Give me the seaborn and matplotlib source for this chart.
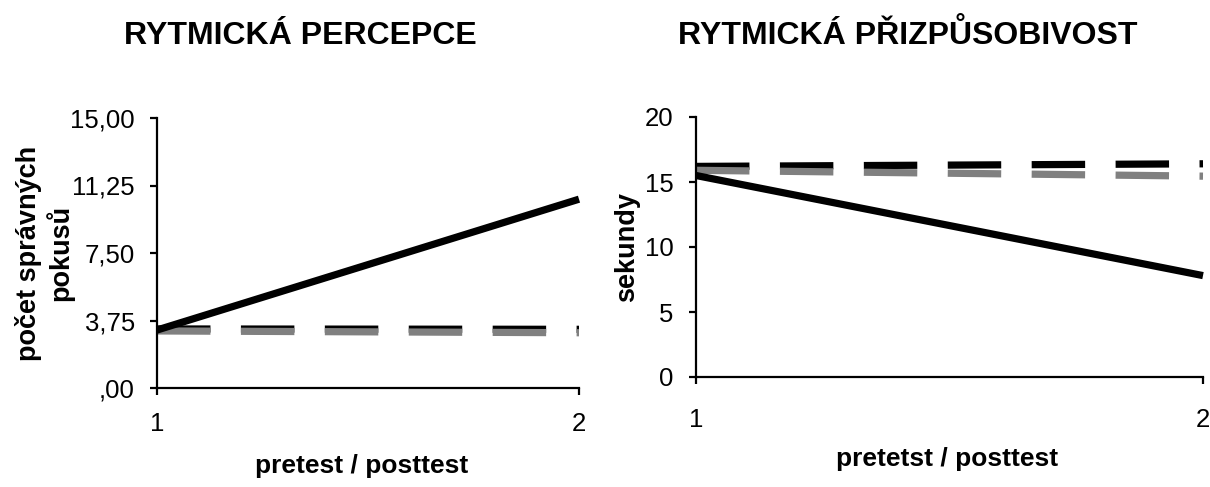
import matplotlib
matplotlib.use("Agg")
import matplotlib.pyplot as plt
import seaborn as sns
import pandas as pd

# ---- data ----
test_points = [1, 2]
x_tick_labels = ["1", "2"]

perc_exp = [3.22, 10.49]
perc_ctrl_black = [3.28, 3.26]
perc_ctrl_gray = [3.17, 3.07]
perc_yticks = [0, 3.75, 7.5, 11.25, 15]
perc_ytick_labels = [",00", "3,75", "7,50", "11,25", "15,00"]

adapt_exp = [15.5, 7.8]
adapt_ctrl_black = [16.2, 16.4]
adapt_ctrl_gray = [15.9, 15.45]
adapt_yticks = [0, 5, 10, 15, 20]
adapt_ytick_labels = ["0", "5", "10", "15", "20"]

titles = ["RYTMICKÁ PERCEPCE", "RYTMICKÁ PŘIZPŮSOBIVOST"]
xlabels = ["pretest / posttest", "pretetst / posttest"]
ylabels = ["počet správných\npokusů", "sekundy"]

sns.set_theme(style="white")
plt.rcParams["font.family"] = ["Liberation Sans", "DejaVu Sans"]

fig = plt.figure(figsize=(12.1, 4.87), dpi=100)
ax1 = fig.add_axes([157/1210, 1-388/487, (579-157)/1210, (388-118)/487])
ax2 = fig.add_axes([696/1210, 1-377/487, (1203-696)/1210, (377-117)/487])

LW = 5.2
DASH = (0, (7.4, 4.22))

def draw(ax, exp, cb, cg):
    df_b = pd.DataFrame({"x": test_points, "y": cb})
    df_g = pd.DataFrame({"x": test_points, "y": cg})
    df_e = pd.DataFrame({"x": test_points, "y": exp})
    sns.lineplot(data=df_b, x="x", y="y", ax=ax, color="black", lw=LW,
                 linestyle=DASH, dash_capstyle="butt", clip_on=False)
    sns.lineplot(data=df_g, x="x", y="y", ax=ax, color="#808080", lw=LW,
                 linestyle=DASH, dash_capstyle="butt", clip_on=False)
    sns.lineplot(data=df_e, x="x", y="y", ax=ax, color="black", lw=LW,
                 solid_capstyle="butt", clip_on=False)

draw(ax1, perc_exp, perc_ctrl_black, perc_ctrl_gray)
draw(ax2, adapt_exp, adapt_ctrl_black, adapt_ctrl_gray)

configs = [
    (ax1, perc_yticks, perc_ytick_labels, (0, 15), 12, 11, -0.195, 0.485, -0.245),
    (ax2, adapt_yticks, adapt_ytick_labels, (0, 20), 17, 11, -0.11, 0.495, -0.27),
]
for i, (ax, yt, ytl, ylim, xpad, ypad, ylx, xlx, xly) in enumerate(configs):
    ax.set_xlim(1, 2)
    ax.set_ylim(*ylim)
    ax.set_xticks(test_points)
    ax.set_xticklabels(x_tick_labels)
    ax.set_yticks(yt)
    ax.set_yticklabels(ytl)
    for s in ["top", "right"]:
        ax.spines[s].set_visible(False)
    for s in ["left", "bottom"]:
        ax.spines[s].set_color("black")
        ax.spines[s].set_linewidth(1.6)
    ax.tick_params(axis="both", which="major", direction="out", length=5,
                   width=1.6, color="black", labelsize=18.5, labelcolor="black",
                   left=True, bottom=True)
    ax.tick_params(axis="x", pad=xpad)
    ax.tick_params(axis="y", pad=ypad)
    ax.set_xlabel(xlabels[i], fontsize=19, fontweight="bold", color="black")
    ax.set_ylabel(ylabels[i], fontsize=19.5, fontweight="bold", color="black",
                  multialignment="center", linespacing=1.15)
    ax.yaxis.set_label_coords(ylx, 0.5)
    ax.xaxis.set_label_coords(xlx, xly)
    ax.grid(False)
    ax.set_facecolor("white")

fig.text(300/1210, 1-44/487, titles[0], ha="center", va="baseline",
         fontsize=23, fontweight="bold", color="black")
fig.text(908/1210, 1-44/487, titles[1], ha="center", va="baseline",
         fontsize=23, fontweight="bold", color="black")

fig.savefig("out.png", dpi=100, facecolor="white")
